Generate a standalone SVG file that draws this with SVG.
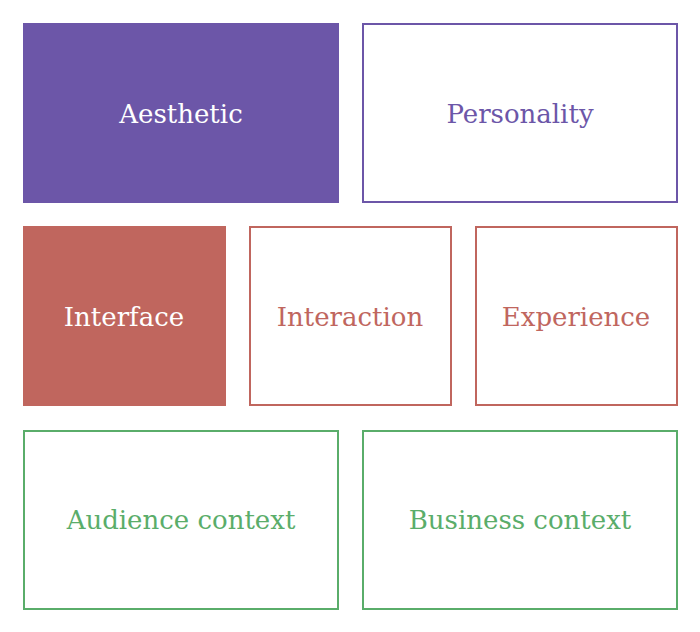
<svg xmlns="http://www.w3.org/2000/svg" width="700" height="632" viewBox="0 0 700 632">
<style>
text{font-family:"DejaVu Serif","Liberation Serif",serif;font-size:26px;text-anchor:middle;dominant-baseline:central}
.p{fill:#6c56a8}.r{fill:#c0665e}.g{fill:#5aad6a}
.po{fill:#fff;stroke:#6c56a8;stroke-width:2}.ro{fill:#fff;stroke:#c0665e;stroke-width:2}.go{fill:#fff;stroke:#5aad6a;stroke-width:2}
.w{fill:#fff}
</style>
<rect width="700" height="632" fill="#fff"/>
<g id="aesthetic"><rect class="p" x="23" y="23" width="316" height="180"/><text class="w" x="181" y="114">Aesthetic</text></g>
<g id="personality"><rect class="po" x="363" y="24" width="314" height="178"/><text class="p" x="520" y="114">Personality</text></g>
<g id="interface"><rect class="r" x="23" y="226" width="203" height="180"/><text class="w" x="124" y="317">Interface</text></g>
<g id="interaction"><rect class="ro" x="250" y="227" width="201" height="178"/><text class="r" x="350" y="317">Interaction</text></g>
<g id="experience"><rect class="ro" x="476" y="227" width="201" height="178"/><text class="r" x="576" y="317">Experience</text></g>
<g id="audience"><rect class="go" x="24" y="431" width="314" height="178"/><text class="g" x="181" y="520">Audience context</text></g>
<g id="business"><rect class="go" x="363" y="431" width="314" height="178"/><text class="g" x="520" y="520">Business context</text></g>
<g id="connectors"/>
</svg>
